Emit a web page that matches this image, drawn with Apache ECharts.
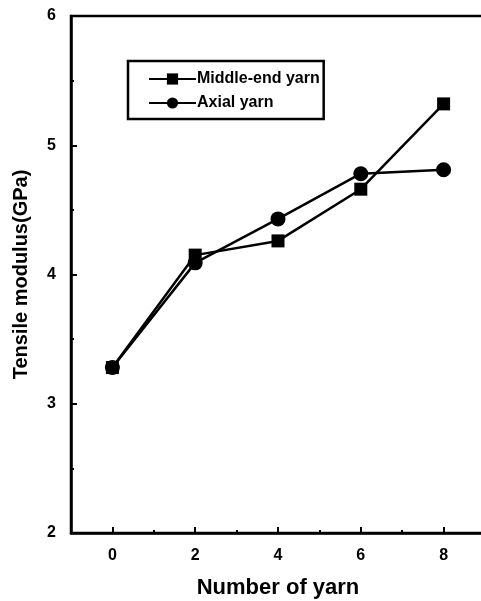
<!DOCTYPE html>
<html>
<head>
<meta charset="utf-8">
<script src="https://cdn.jsdelivr.net/npm/echarts@6/dist/echarts.min.js"></script>
<style>
  html, body { margin: 0; padding: 0; background: #fff; }
  #chart { width: 481px; height: 601px; }
</style>
</head>
<body>
<div id="chart"></div>
<script>
  // values
  var yarnCount = [0, 2, 4, 6, 8];
  var middleEnd = [3.28, 4.15, 4.26, 4.66, 5.32];
  var axial = [3.28, 4.09, 4.43, 4.78, 4.81];
  var xMajorTicks = [0, 2, 4, 6, 8];
  var xMinorTicks = [1, 3, 5, 7];

  var font = 'Liberation Sans, Arial, sans-serif';

  function pairs(xs, ys) {
    return xs.map(function (x, i) { return [x, ys[i]]; });
  }

  var chart = echarts.init(document.getElementById('chart'));

  var option = {
    backgroundColor: '#fff',
    animation: false,
    textStyle: { fontFamily: font, color: '#000' },
    grid: {
      // right edge runs off the canvas like in the scan
      left: 71, top: 16, width: 414, height: 517,
      outerBoundsMode: 'none',
      show: true, borderColor: '#000', borderWidth: 2.5, backgroundColor: 'transparent'
    },
    legend: {
      orient: 'vertical',
      left: 128, top: 61,
      padding: [10, 4, 8, 20],
      itemWidth: 47, itemHeight: 14, itemGap: 8,
      borderColor: '#000', borderWidth: 2.5,
      textStyle: { fontFamily: font, fontSize: 16, fontWeight: 'bold', color: '#000', padding: [0, 0, 0, -4] },
      data: ['Middle-end yarn', 'Axial yarn']
    },
    xAxis: [{
      type: 'value', min: -1, max: 9,
      name: 'Number of yarn', nameLocation: 'middle', nameGap: 44,
      nameTextStyle: { fontFamily: font, fontSize: 22, fontWeight: 'bold', color: '#000' },
      axisLine: { onZero: false, lineStyle: { color: '#000', width: 2.5 } },
      axisTick: { inside: true, length: 6, lineStyle: { color: '#000', width: 2 }, customValues: xMajorTicks },
      axisLabel: { customValues: xMajorTicks, margin: 15, fontFamily: font, fontSize: 16, fontWeight: 'bold', color: '#000' },
      splitLine: { show: false }
    }, {
      type: 'value', min: -1, max: 9, position: 'bottom',
      axisLine: { show: false, onZero: false },
      axisTick: { inside: true, length: 3, lineStyle: { color: '#000', width: 2 }, customValues: xMinorTicks },
      axisLabel: { show: false },
      splitLine: { show: false }
    }],
    yAxis: {
      type: 'value', min: 2, max: 6, interval: 1,
      name: 'Tensile modulus(GPa)', nameLocation: 'middle', nameGap: 40,
      nameTextStyle: { fontFamily: font, fontSize: 20, fontWeight: 'bold', color: '#000' },
      axisLine: { onZero: false, lineStyle: { color: '#000', width: 2.5 } },
      axisTick: { inside: true, length: 6, lineStyle: { color: '#000', width: 2 } },
      minorTick: { show: true, splitNumber: 2, length: 3, lineStyle: { color: '#000', width: 2 } },
      axisLabel: { margin: 15, fontFamily: font, fontSize: 16, fontWeight: 'bold', color: '#000' },
      splitLine: { show: false }
    },
    series: [{
      name: 'Middle-end yarn',
      type: 'line',
      xAxisIndex: 0,
      data: pairs(yarnCount, middleEnd),
      symbol: 'rect', symbolSize: 13,
      itemStyle: { color: '#000' },
      lineStyle: { color: '#000', width: 2.5 }
    }, {
      name: 'Axial yarn',
      type: 'line',
      xAxisIndex: 0,
      data: pairs(yarnCount, axial),
      symbol: 'circle', symbolSize: 15,
      itemStyle: { color: '#000' },
      lineStyle: { color: '#000', width: 2.5 }
    }]
  };

  chart.setOption(option);
</script>
</body>
</html>
